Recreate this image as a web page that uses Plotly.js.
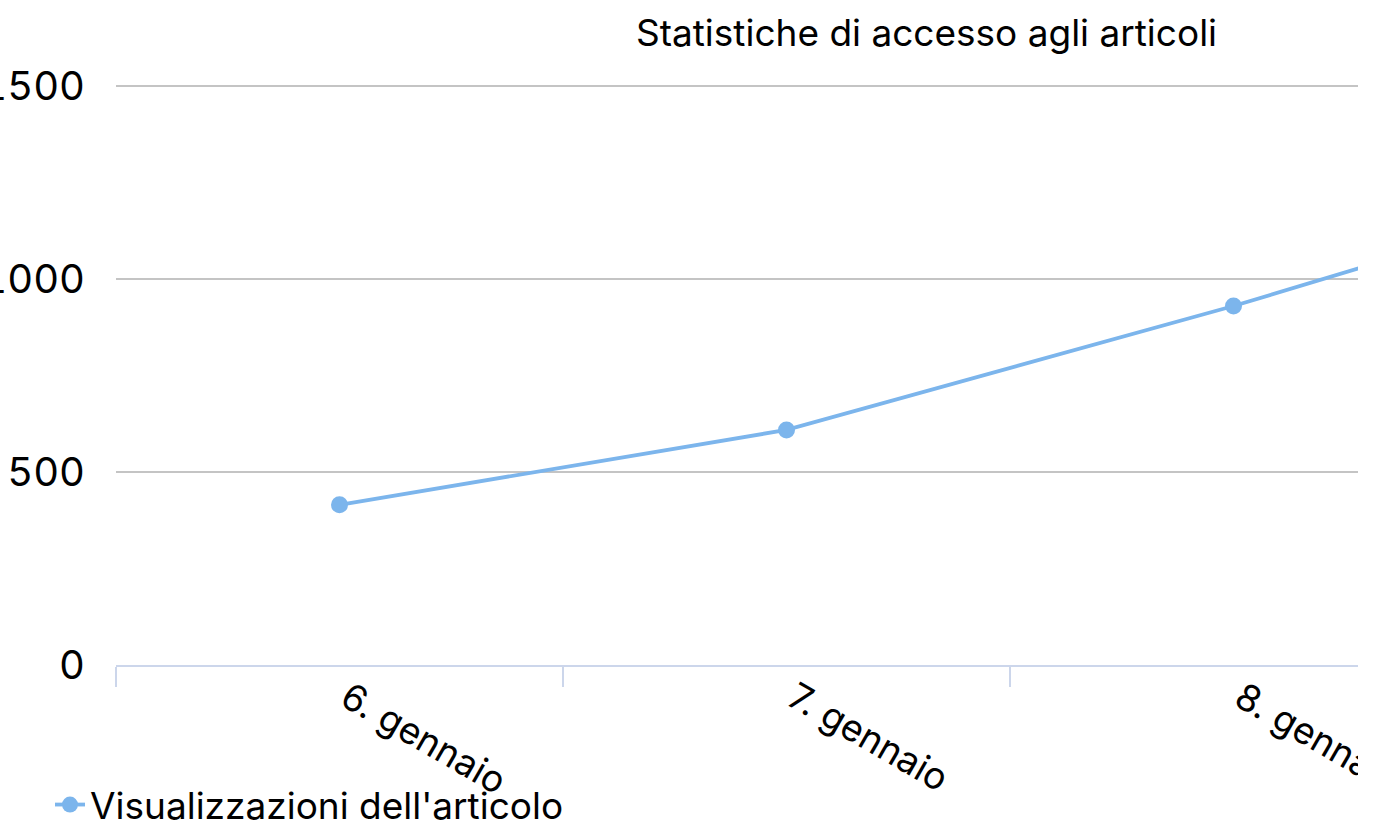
<!DOCTYPE html>
<html>
<head>
<meta charset="utf-8">
<script src="https://cdn.plot.ly/plotly-3.0.1.min.js"></script>
<style>
  html, body { margin: 0; padding: 0; background: #fff; }
  #clip { position: absolute; left: 0; top: 0; width: 1358px; height: 821px; overflow: hidden; }
  #chart { position: absolute; left: -60px; top: 0; width: 1984px; height: 821px; }
  .ytick text { font-feature-settings: "tnum"; }
</style>
</head>
<body>
<div id="clip"><div id="chart"></div></div>
<script>
const categories = ['6. gennaio', '7. gennaio', '8. gennaio', '9. gennaio'];
const views = [415, 609, 930, 1280];
const seriesName = "Visualizzazioni dell'articolo";
const chartTitle = 'Statistiche di accesso agli articoli';
const yTicks = [0, 500, 1000, 1500];

const L = 60, W = 1984, H = 821;
const font = 'Inter, "Open Sans", sans-serif';

const trace = {
  type: 'scatter',
  mode: 'lines+markers',
  x: categories,
  y: views,
  name: seriesName,
  line: { color: '#7cb5ec', width: 3.8 },
  marker: { color: '#7cb5ec', size: 17 },
  showlegend: true
};

const layout = {
  width: W, height: H,
  margin: { l: 116 + L, r: 20, t: 82, b: 156, autoexpand: false },
  paper_bgcolor: '#fff', plot_bgcolor: '#fff',
  font: { family: font, color: '#000' },
  title: {
    text: chartTitle,
    font: { family: font, size: 37, color: '#000' },
    xref: 'container', yref: 'container',
    x: (926.5 + L) / W, xanchor: 'center',
    y: 1 - 33 / H, yanchor: 'middle'
  },
  xaxis: {
    type: 'category',
    range: [-0.5, 3.5],
    tickson: 'boundaries',
    ticks: 'outside', ticklen: 20, tickcolor: '#ccd6eb', tickwidth: 1.5,
    showline: true, linecolor: '#ccd6eb', linewidth: 2,
    showgrid: false, zeroline: false,
    tickangle: 30,
    ticklabelshift: 8,
    ticklabelstandoff: -5,
    tickfont: { family: font, size: 37, color: '#000' },
    automargin: false
  },
  yaxis: {
    range: [0, 1510.4],
    tickvals: yTicks,
    showgrid: true, gridcolor: '#c4c4c4', gridwidth: 2,
    zeroline: false, showline: false, ticks: '',
    ticklabelstandoff: 30,
    tickfont: { family: font, size: 40, color: '#000' },
    automargin: false
  },
  showlegend: true,
  legend: {
    xref: 'container', yref: 'container',
    x: (50 + L) / W, xanchor: 'left',
    y: 1 - 805 / H, yanchor: 'middle',
    orientation: 'h',
    font: { family: font, size: 37, color: '#000' },
    bgcolor: 'rgba(0,0,0,0)'
  }
};

Plotly.newPlot('chart', [trace], layout, { displayModeBar: false, staticPlot: true });
</script>
</body>
</html>
